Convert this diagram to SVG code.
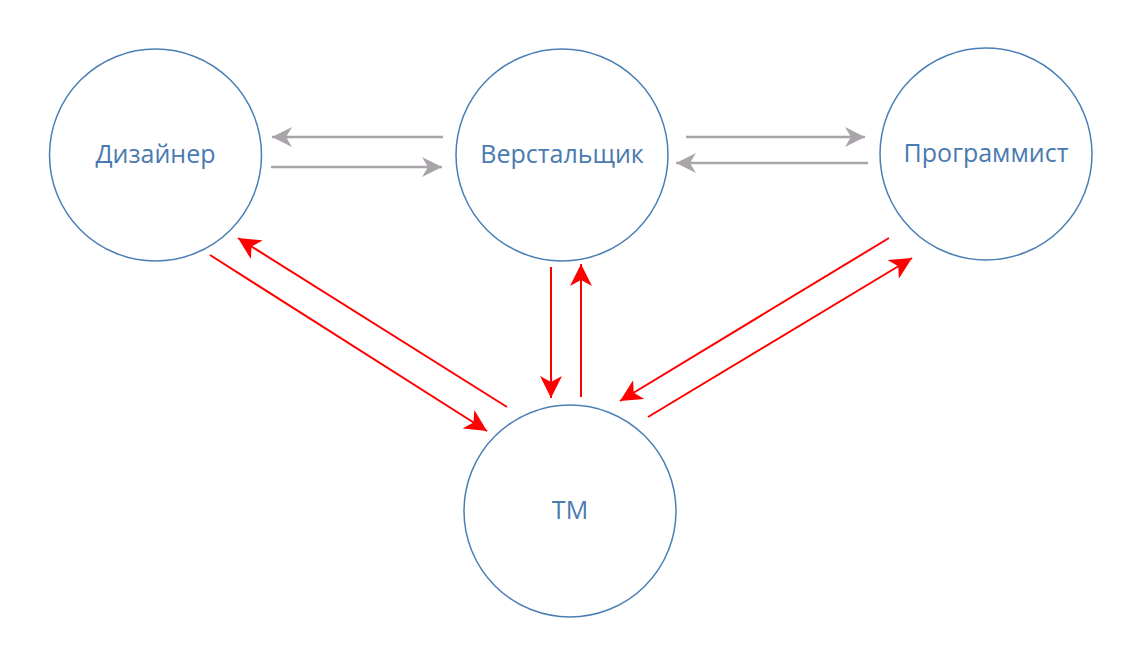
<svg xmlns="http://www.w3.org/2000/svg" width="1146" height="668" viewBox="0 0 1146 668">
<style>
.node{fill:#fff;stroke:#4a7fb3;stroke-width:1.5}
.lbl{font-family:"Open Sans","Noto Sans",sans-serif;font-size:25px;fill:#4a7ab0;text-anchor:middle;dominant-baseline:central}
.g{stroke:#a9a4a9;stroke-width:2.5;fill:none;marker-end:url(#ag)}
.r{stroke:#ff0000;stroke-width:2;fill:none;marker-end:url(#ar)}
</style>
<defs>
<marker id="ag" markerUnits="userSpaceOnUse" markerWidth="20" markerHeight="20" viewBox="0 0 20 20" refX="20" refY="10" orient="auto"><path d="M0,0 L20,10 L0,20 L6,10 z" fill="#a9a4a9"/></marker>
<marker id="ar" markerUnits="userSpaceOnUse" markerWidth="22" markerHeight="22" viewBox="0 0 22 22" refX="22" refY="11" orient="auto"><path d="M0,0 L22,11 L0,22 L6,11 z" fill="#ff0000"/></marker>
</defs>
<rect width="1146" height="668" fill="#fff"/>
<g id="designer"><circle class="node" cx="155.5" cy="155" r="106"/><text class="lbl" x="155.5" y="153">Дизайнер</text></g>
<g id="verstalshik"><circle class="node" cx="562" cy="155" r="106"/><text class="lbl" x="562" y="153">Верстальщик</text></g>
<g id="programmist"><circle class="node" cx="986" cy="154" r="106"/><text class="lbl" x="986" y="152">Программист</text></g>
<g id="tm"><circle class="node" cx="570" cy="511" r="106"/><text class="lbl" x="570" y="509">ТМ</text></g>
<g id="connectors">
<line class="g" x1="443" y1="137" x2="272" y2="137"/>
<line class="g" x1="271" y1="167" x2="442" y2="167"/>
<line class="g" x1="686" y1="137" x2="865" y2="137"/>
<line class="g" x1="868" y1="163" x2="676" y2="163"/>
<line class="r" x1="551" y1="267" x2="551" y2="398"/>
<line class="r" x1="581" y1="397" x2="581" y2="264"/>
<line class="r" x1="507" y1="407" x2="238" y2="238"/>
<line class="r" x1="210" y1="255" x2="487" y2="431"/>
<line class="r" x1="889" y1="238" x2="620" y2="401"/>
<line class="r" x1="648" y1="417" x2="912" y2="258"/>
</g>
</svg>
